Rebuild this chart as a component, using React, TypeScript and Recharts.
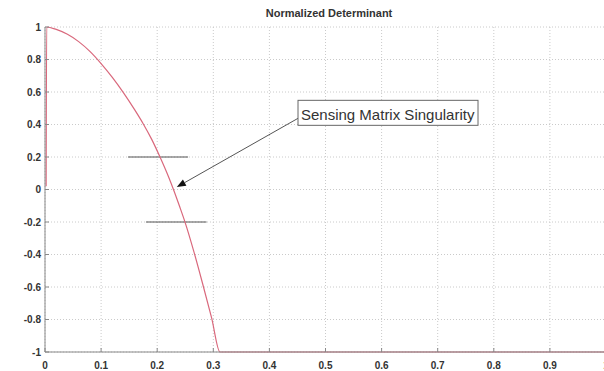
import React from 'react';
import { LineChart, Line, XAxis, YAxis, CartesianGrid, ReferenceLine } from 'recharts';

// determinant curve
const detX = [0.002, 0.003, 0.02, 0.04, 0.06, 0.08, 0.1, 0.12, 0.14, 0.16, 0.175, 0.19, 0.205, 0.22, 0.229, 0.24, 0.25, 0.266, 0.281, 0.297, 0.312, 0.5, 0.75, 1];
const detY = [0.02, 1, 0.985, 0.955, 0.91, 0.85, 0.775, 0.69, 0.595, 0.49, 0.405, 0.31, 0.2, 0.08, 0, -0.105, -0.205, -0.39, -0.58, -0.79, -1, -1, -1, -1];

const xTicks = [0, 0.1, 0.2, 0.3, 0.4, 0.5, 0.6, 0.7, 0.8, 0.9, 1];
const yTicks = [-1, -0.8, -0.6, -0.4, -0.2, 0, 0.2, 0.4, 0.6, 0.8, 1];

const title = 'Normalized Determinant';
const noteText = 'Sensing Matrix Singularity';
const notePoint = { x: 0.451, y: 0.438 };
const arrowTip = { x: 0.235, y: 0.015 };
const upperBar = [{ x: 0.148, y: 0.2 }, { x: 0.255, y: 0.2 }];
const lowerBar = [{ x: 0.18, y: -0.2 }, { x: 0.288, y: -0.2 }];

const data = detX.map((x, i) => ({ x, det: detY[i] }));

const font = '"Liberation Sans", Arial, sans-serif';

const ArrowNote = (props: any) => {
  const { x1, y1, x2, y2 } = props;
  const ang = Math.atan2(y2 - y1, x2 - x1);
  const len = 9;
  const w = 3.5;
  const bx = x2 - len * Math.cos(ang);
  const by = y2 - len * Math.sin(ang);
  const px = -Math.sin(ang) * w;
  const py = Math.cos(ang) * w;
  return (
    <g>
      <line x1={x1} y1={y1} x2={bx} y2={by} stroke="#555" strokeWidth={1} />
      <polygon points={`${x2},${y2} ${bx + px},${by + py} ${bx - px},${by - py}`} fill="#111" />
      <rect x={x1} y={y1 - 18} width={180} height={25} fill="#fff" stroke="#666" strokeWidth={1} />
      <text x={x1 + 3} y={y1 + 1.5} fontSize={15} fontFamily={font} fill="#333">{noteText}</text>
    </g>
  );
};

export default function App() {
  return (
    <div style={{ position: 'absolute', left: 0, top: 0, width: 604, height: 371, overflow: 'hidden', background: '#fff' }}>
      <div style={{ position: 'absolute', left: 0, width: 658, top: 7, textAlign: 'center', fontFamily: font, fontWeight: 'bold', fontSize: 11, color: '#333', zIndex: 1 }}>
        {title}
      </div>
      <LineChart width={610} height={371} data={data} margin={{ top: 27, right: 4, bottom: 0, left: 0 }}>
        <CartesianGrid stroke="#cacaca" strokeDasharray="1 2" verticalValues={xTicks} horizontalValues={yTicks} />
        <XAxis
          type="number"
          dataKey="x"
          domain={[0, 1]}
          ticks={xTicks}
          height={19}
          stroke="#888"
          tickSize={-4}
          tickMargin={14}
          tick={{ fontSize: 10, fontWeight: 'bold', fill: '#333', fontFamily: font }}
        />
        <YAxis
          type="number"
          domain={[-1, 1]}
          ticks={yTicks}
          width={45}
          stroke="#888"
          tickSize={-4}
          tickMargin={8}
          tick={{ fontSize: 10, fontWeight: 'bold', fill: '#333', fontFamily: font }}
        />
        <ReferenceLine segment={upperBar} stroke="#555" strokeWidth={1} />
        <ReferenceLine segment={lowerBar} stroke="#555" strokeWidth={1} />
        <Line type="monotone" dataKey="det" stroke="#d9687c" strokeWidth={1.2} dot={false} isAnimationActive={false} />
        <ReferenceLine segment={[notePoint, arrowTip]} shape={ArrowNote} ifOverflow="visible" />
      </LineChart>
    </div>
  );
}
